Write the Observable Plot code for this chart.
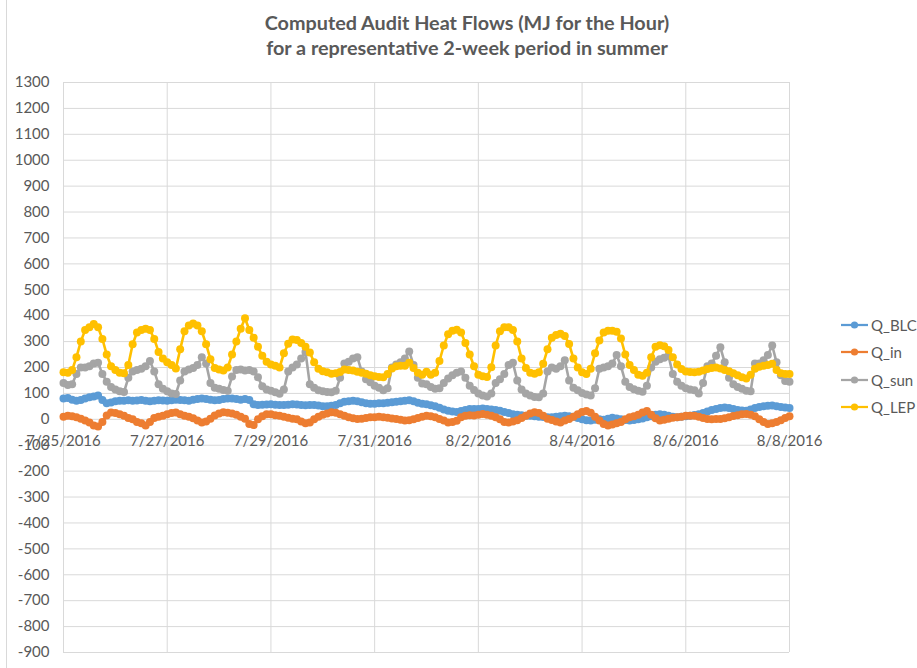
<!DOCTYPE html>
<html>
<head>
<meta charset="utf-8">
<script src="https://cdn.jsdelivr.net/npm/d3@7"></script>
<script src="https://cdn.jsdelivr.net/npm/@observablehq/plot@0.6"></script>
<style>
  body { margin: 0; background: #fff; }
  #wrap { position: relative; width: 917px; height: 668px; overflow: hidden; font-family: Lato, "Open Sans", sans-serif; color: #595959; background: #fff; }
  .title { position: absolute; left: 117px; width: 700px; text-align: center; font-weight: bold; font-size: 19.8px; line-height: 25px; white-space: nowrap; }
  .item { position: absolute; left: 841px; height: 20px; display: flex; align-items: center; font-size: 15px; }
  .item svg { margin-right: 2px; }
  #chart { position: absolute; left: 0; top: 66px; }
  #border { position: absolute; left: 6px; top: 0; height: 668px; border-left: 1px solid #d9d9d9; }
</style>
</head>
<body>
<div id="wrap">
  <div id="border"></div>
  <div class="title" style="top:10px">Computed Audit Heat Flows (MJ for the Hour)</div>
  <div class="title" style="top:35px">for a representative 2-week period in summer</div>
  <div id="legend"></div>
  <div id="chart"></div>
</div>
<script>
// ---- data (2-hourly samples starting 7/25/2016 00:00) ----
const seriesNames = ["Q_BLC", "Q_in", "Q_sun", "Q_LEP"];
const seriesColors = ["#5B9BD5", "#ED7D31", "#A5A5A5", "#FFC000"];
const xTickLabels = ["7/25/2016", "7/27/2016", "7/29/2016", "7/31/2016", "8/2/2016", "8/4/2016", "8/6/2016", "8/8/2016"];
const yTickValues = [-900, -800, -700, -600, -500, -400, -300, -200, -100, 0, 100, 200, 300, 400, 500, 600, 700, 800, 900, 1000, 1100, 1200, 1300];

const qBLC = [
  80, 82, 76, 72, 75, 80, 85, 88, 92, 75, 62, 65,
  70, 72, 72, 74, 72, 73, 75, 72, 70, 72, 74, 73,
  72, 74, 76, 75, 74, 72, 76, 78, 80, 78, 76, 74,
  75, 78, 80, 80, 78, 76, 78, 75, 58, 55, 56, 57,
  58, 56, 55, 55, 56, 58, 57, 55, 54, 55, 55, 53,
  50, 50, 52, 55, 62, 68, 70, 72, 70, 66, 62, 60,
  60, 62, 62, 64, 66, 68, 70, 72, 74, 70, 64, 60,
  58, 54, 50, 45, 38, 33, 30, 28, 32, 36, 40, 40,
  40, 42, 40, 38, 36, 33, 28, 24, 20, 18, 16, 14,
  14, 12, 10, 9, 8, 8, 10, 12, 14, 12, 10, 5,
  0, -4, -5, -2, 0, -2, 2, 6, 3, 0, -3, -5,
  -3, 0, 3, 8, 12, 18, 20, 18, 14, 10, 8, 10,
  12, 14, 17, 20, 24, 30, 36, 40, 44, 46, 44, 40,
  36, 34, 33, 38, 44, 48, 50, 52, 53, 50, 48, 46,
  44
];
const qIn = [
  10, 14, 12, 8, 2, -5, -12, -24, -28, -10, 15, 26,
  24, 20, 14, 5, 0, -10, -15, -24, -10, 5, 10, 14,
  20, 24, 26, 20, 14, 10, 4, -5, -12, -8, 2, 15,
  22, 27, 25, 22, 18, 10, 2, -18, -22, 0, 12, 20,
  20, 16, 14, 10, 6, 2, 0, -8, -15, -12, 0, 10,
  18, 22, 27, 25, 20, 14, 8, 4, 1, 2, 5, 8,
  8, 10, 8, 6, 3, 1, -2, -5, -4, 0, 5, 10,
  14, 12, 8, 1, -5, -12, -10, -6, 8, 14, 16, 15,
  18, 21, 18, 14, 8, 0, -10, -12, -8, -4, 5, 14,
  22, 27, 24, 14, 2, -3, -8, -12, -5, 1, 10, 20,
  28, 32, 25, 10, -5, -18, -24, -20, -15, -10, 0, 8,
  12, 18, 26, 32, 18, 4, -5, -2, 2, 6, 8, 10,
  14, 14, 14, 10, 5, 1, 0, 1, 1, 4, 8, 13,
  16, 20, 21, 18, 12, 0, -10, -18, -15, -10, -4, 5,
  12
];
const qSun = [
  140, 132, 135, 175, 200, 200, 205, 215, 218, 175, 145, 125,
  115, 108, 105, 160, 185, 190, 195, 205, 225, 185, 135, 118,
  108, 100, 98, 150, 185, 192, 198, 210, 240, 215, 140, 122,
  118, 113, 110, 165, 190, 192, 188, 190, 185, 162, 128, 115,
  110, 104, 99, 115, 185, 200, 212, 235, 260, 135, 122, 112,
  108, 105, 104, 110, 160, 215, 222, 235, 240, 185, 155, 143,
  130, 122, 112, 120, 200, 212, 220, 235, 262, 210, 160, 138,
  135, 125, 118, 120, 140, 158, 170, 180, 185, 160, 130, 113,
  100, 92, 88, 100, 140, 155, 175, 210, 218, 150, 115, 100,
  92, 86, 85, 100, 185, 200, 195, 205, 228, 150, 122, 112,
  102, 96, 92, 120, 195, 200, 205, 215, 248, 205, 145, 125,
  116, 110, 106, 130, 200, 222, 232, 238, 245, 175, 145, 130,
  120, 115, 112, 100, 140, 205, 215, 245, 278, 220, 160, 135,
  125, 118, 110, 108, 215, 215, 228, 248, 285, 220, 170, 148,
  145
];
const qLEP = [
  182, 180, 190, 240, 300, 345, 355, 368, 355, 310, 250, 205,
  190, 180, 178, 210, 290, 335, 345, 350, 345, 310, 260, 235,
  220, 210, 196, 270, 340, 362, 370, 362, 340, 290, 232, 198,
  192, 188, 200, 250, 300, 350, 390, 345, 315, 280, 245, 222,
  212, 207, 200, 255, 292, 308, 306, 295, 280, 258, 220, 195,
  186, 182, 176, 178, 183, 192, 190, 188, 184, 180, 176, 170,
  166, 163, 162, 175, 196, 205, 207, 207, 218, 198, 180, 172,
  184, 172, 180, 225, 285, 328, 342, 346, 335, 295, 250, 205,
  172, 166, 163, 201, 285, 340, 355, 355, 345, 300, 235, 198,
  180, 176, 182, 214, 270, 315, 325, 330, 322, 291, 235, 200,
  182, 175, 195, 255, 304, 335, 342, 342, 338, 312, 250, 210,
  190, 172, 168, 180, 240, 280, 286, 282, 268, 240, 212, 194,
  185, 183, 182, 184, 188, 194, 198, 200, 196, 190, 186, 178,
  170, 162, 158, 172, 195, 203, 207, 210, 214, 190, 178, 175,
  175
];
const seriesValues = [qBLC, qIn, qSun, qLEP];

// ---- build table ----
const startMs = Date.UTC(2016, 6, 25);
const stepMs = 2 * 3600 * 1000;
const parseLabel = s => { const [m, d, y] = s.split("/").map(Number); return new Date(Date.UTC(y, m - 1, d)); };
const xTicks = xTickLabels.map(parseLabel);
const rows = [];
seriesNames.forEach((name, k) => {
  seriesValues[k].forEach((v, i) => rows.push({ series: name, t: new Date(startMs + i * stepMs), v }));
});

const font = "Lato, 'Open Sans', sans-serif";
const marks = [
  Plot.ruleY(yTickValues, { stroke: "#d9d9d9", strokeWidth: 1 }),
  Plot.ruleX(xTicks, { stroke: "#d9d9d9", strokeWidth: 1 }),
  Plot.text(yTickValues, { x: () => xTicks[0], y: d => d, text: d => String(d), textAnchor: "end", dx: -14, fontSize: 15, fill: "#595959", fontFamily: font }),
  Plot.text(xTicks, { x: d => d, y: () => 0, text: (d, i) => xTickLabels[i], dy: 22, fontSize: 15, fill: "#595959", fontFamily: font })
];
seriesNames.forEach((name, k) => {
  const sub = rows.filter(r => r.series === name);
  marks.push(Plot.line(sub, { x: "t", y: "v", stroke: seriesColors[k], strokeWidth: 2.6 }));
  marks.push(Plot.dot(sub, { x: "t", y: "v", fill: seriesColors[k], r: 4, stroke: "none" }));
});

const chart = Plot.plot({
  width: 917,
  height: 602,
  marginTop: 16,
  marginBottom: 16,
  marginLeft: 63,
  marginRight: 128,
  style: { fontFamily: font, background: "transparent", color: "#595959", overflow: "visible" },
  x: { type: "utc", domain: [xTicks[0], xTicks[xTicks.length - 1]], axis: null },
  y: { domain: [yTickValues[0], yTickValues[yTickValues.length - 1]], axis: null },
  marks
});
document.getElementById("chart").appendChild(chart);

// ---- legend ----
const legend = document.getElementById("legend");
seriesNames.forEach((name, k) => {
  const item = document.createElement("div");
  item.className = "item";
  item.style.top = (315 + k * 27.3) + "px";
  item.innerHTML = `<svg width="28" height="10"><line x1="0" y1="5" x2="27" y2="5" stroke="${seriesColors[k]}" stroke-width="2.25"/><circle cx="13.5" cy="5" r="3.6" fill="${seriesColors[k]}"/></svg><span>${name}</span>`;
  legend.appendChild(item);
});
</script>
</body>
</html>
